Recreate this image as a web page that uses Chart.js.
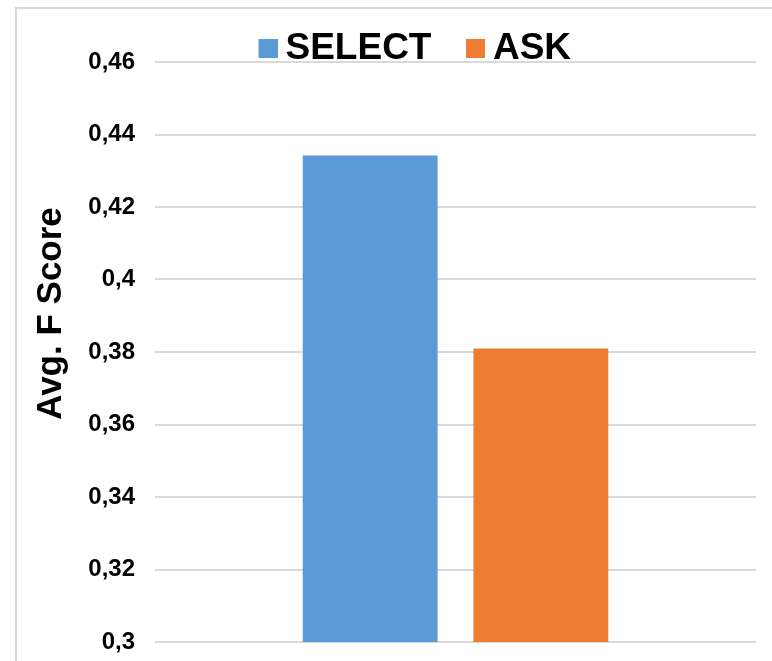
<!DOCTYPE html>
<html>
<head>
<meta charset="utf-8">
<script src="https://cdn.jsdelivr.net/npm/chart.js@4/dist/chart.umd.min.js"></script>
<style>
  html, body { margin: 0; padding: 0; background: #fff; }
  canvas { display: block; }
</style>
</head>
<body>
<canvas id="chart" width="772" height="661"></canvas>
<script>
// Data
const categories = [''];
const seriesNames = ['SELECT', 'ASK'];
const selectValues = [0.4342];
const askValues = [0.381];
const yTickLabels = ['0,3', '0,32', '0,34', '0,36', '0,38', '0,4', '0,42', '0,44', '0,46'];
const yTitle = 'Avg. F Score';

const FONT = '"Liberation Sans", Arial, Helvetica, sans-serif';
const colors = ['#5b9bd5', '#ed7d31'];

// Legend swatch: square sitting close to the label text
function swatch(color) {
  const c = document.createElement('canvas');
  c.width = 22;
  c.height = 19;
  const g = c.getContext('2d');
  g.fillStyle = color;
  g.fillRect(3, 0, 19, 19);
  return c;
}
const swatches = colors.map(swatch);

// Outer frame and fine placement of the legend / side title
const framePlugin = {
  id: 'frame',
  beforeDraw(chart) {
    const ctx = chart.ctx;
    ctx.save();
    ctx.fillStyle = '#ffffff';
    ctx.fillRect(0, 0, chart.width, chart.height);
    ctx.strokeStyle = '#d9d9d9';
    ctx.lineWidth = 2;
    ctx.strokeRect(16, 8, chart.width + 20, chart.height + 20);
    ctx.restore();
  },
  afterLayout(chart) {
    const lg = chart.legend;
    const pad = lg.options.labels.padding;
    const firstLeft = (lg.left + pad + lg.right - lg.lineWidths[0]) / 2;
    const dx = 266 - firstLeft;
    lg.left += dx;
    lg.right += dx;
    lg.top = 30 - pad;
    lg.bottom = 70;
    const tb = chart.titleBlock;
    tb.top = 200;
    tb.bottom = 427;
  }
};

new Chart(document.getElementById('chart'), {
  type: 'bar',
  data: {
    labels: categories,
    datasets: [
      { label: seriesNames[0], data: selectValues, backgroundColor: colors[0] },
      { label: seriesNames[1], data: askValues, backgroundColor: colors[1] }
    ]
  },
  options: {
    responsive: false,
    animation: false,
    devicePixelRatio: 1,
    layout: { padding: { left: 0, right: 16, top: 0, bottom: 19 } },
    datasets: { bar: { categoryPercentage: 0.568, barPercentage: 0.79 } },
    scales: {
      x: { display: false },
      y: {
        min: 0.3,
        max: 0.46,
        afterFit(scale) {
          scale.width = 72.6;
          scale.paddingTop = 0;
          scale.paddingBottom = 0;
        },
        ticks: {
          stepSize: 0.02,
          padding: 20,
          color: '#000',
          font: { family: FONT, size: 24, weight: 'bold' },
          callback: (v, i) => yTickLabels[i]
        },
        grid: { color: '#d9d9d9', lineWidth: 2, drawTicks: false },
        border: { display: false }
      }
    },
    plugins: {
      legend: {
        position: 'top',
        maxHeight: 62,
        labels: {
          usePointStyle: true,
          pointStyleWidth: 1,
          padding: 42,
          color: '#000',
          font: { family: FONT, size: 37, weight: 'bold' },
          generateLabels(chart) {
            const items = Chart.defaults.plugins.legend.labels.generateLabels(chart);
            items.forEach((it, i) => { it.pointStyle = swatches[i]; });
            return items;
          }
        }
      },
      title: {
        display: true,
        position: 'left',
        text: yTitle,
        color: '#000',
        font: { family: FONT, size: 35, weight: 'bold' },
        padding: { top: 30.4, bottom: 10 }
      },
      tooltip: { enabled: false }
    }
  },
  plugins: [framePlugin]
});
</script>
</body>
</html>
